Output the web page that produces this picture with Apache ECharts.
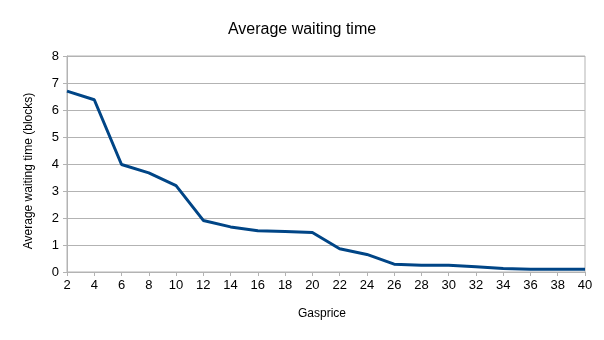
<!DOCTYPE html>
<html>
<head>
<meta charset="utf-8">
<script src="https://cdn.jsdelivr.net/npm/echarts@6/dist/echarts.min.js"></script>
<style>html,body{margin:0;padding:0;background:#fff;}#c{width:604px;height:340px;}</style>
</head>
<body>
<div id="c"></div>
<script>
const categories = ['2','4','6','8','10','12','14','16','18','20','22','24','26','28','30','32','34','36','38','40'];
const waitingTime = [6.70, 6.38, 3.98, 3.67, 3.20, 1.91, 1.67, 1.53, 1.50, 1.46, 0.86, 0.65, 0.29, 0.25, 0.25, 0.19, 0.13, 0.10, 0.10, 0.10];
const titleText = 'Average waiting time';
const xName = 'Gasprice';
const yName = 'Average waiting time (blocks)';

const font = 'Liberation Sans, Arial, sans-serif';
const chart = echarts.init(document.getElementById('c'), null, {renderer: 'canvas'});
chart.setOption({
  animation: false,
  backgroundColor: '#ffffff',
  title: {
    text: titleText, left: 'center', top: 17,
    textStyle: {fontFamily: font, fontSize: 16, fontWeight: 'normal', color: '#000'}
  },
  grid: {left: 67, right: 19, top: 56, bottom: 68, show: true, borderColor: '#b3b3b3', borderWidth: 1},
  xAxis: {
    type: 'category', data: categories, boundaryGap: false,
    name: xName, nameLocation: 'middle', nameGap: 36,
    nameTextStyle: {fontFamily: font, fontSize: 12, color: '#000', padding: [0, 8, 0, 0]},
    axisLine: {lineStyle: {color: '#b3b3b3', width: 1}},
    axisTick: {show: true, length: 4, lineStyle: {color: '#b3b3b3'}, alignWithLabel: true},
    axisLabel: {fontFamily: font, fontSize: 13, color: '#000', margin: 7, interval: 0},
    splitLine: {show: false}
  },
  yAxis: {
    type: 'value', min: 0, max: 8, interval: 1,
    name: yName, nameLocation: 'middle', nameGap: 32,
    nameTextStyle: {fontFamily: font, fontSize: 12, color: '#000', padding: [0, 14, 0, 0]},
    axisLine: {show: true, lineStyle: {color: '#b3b3b3', width: 1}},
    axisTick: {show: true, length: 4, lineStyle: {color: '#b3b3b3'}},
    axisLabel: {fontFamily: font, fontSize: 13, color: '#000', margin: 8},
    splitLine: {show: true, lineStyle: {color: '#b3b3b3', width: 1}}
  },
  series: [{
    type: 'line', data: waitingTime, showSymbol: false, symbol: 'none',
    lineStyle: {color: '#004586', width: 3}, itemStyle: {color: '#004586'}
  }]
});
</script>
</body>
</html>
